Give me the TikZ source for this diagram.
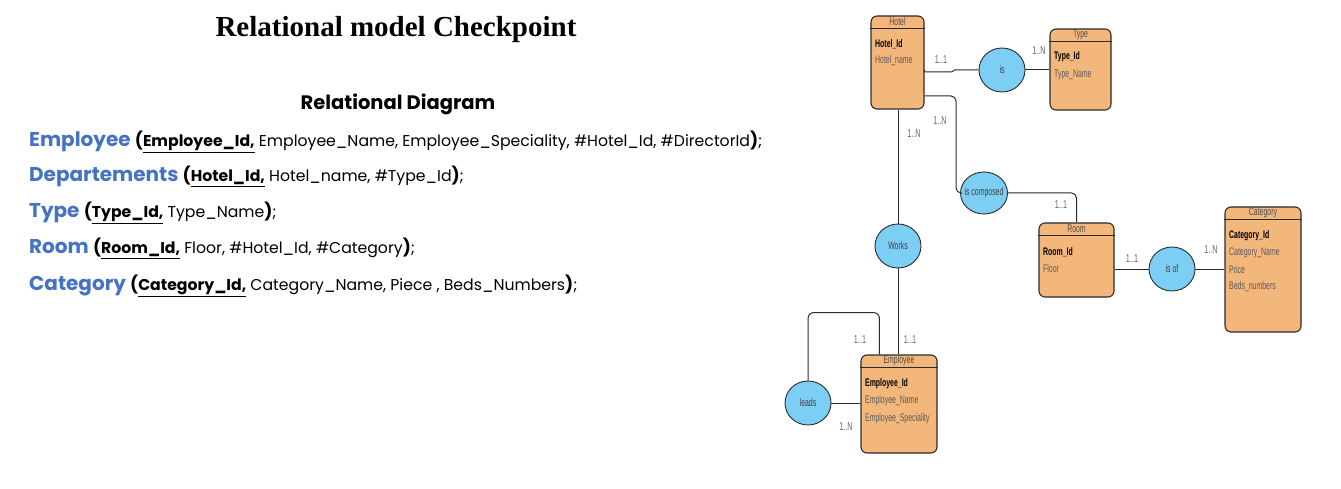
\documentclass[tikz,border=0pt]{standalone}
\usepackage{fontspec}
\usetikzlibrary{shapes.geometric}
\setmainfont{Liberation Serif}
\newfontfamily\lfont{Poppins}
\newfontfamily\nfont{Liberation Sans}[FakeStretch=0.63]
\definecolor{entfill}{HTML}{F4B77B}
\definecolor{relfill}{HTML}{7DCEF4}
\definecolor{keyblue}{HTML}{4472C4}
\definecolor{cardgray}{HTML}{666666}
\definecolor{edge}{HTML}{2B2B2B}
\tikzset{
  entity/.style={draw=edge, line width=1.1pt, fill=entfill, rounded corners=6pt, inner sep=0pt},
  rel/.style={ellipse, draw=edge, line width=0.9pt, fill=relfill, inner xsep=-7pt, inner ysep=0pt, minimum width=46pt, minimum height=44pt, font=\nfont\fontsize{11}{12}\selectfont, text=black!75},
  link/.style={draw=edge, line width=1pt},
  card/.style={font=\nfont\fontsize{11.5}{12}\selectfont, text=cardgray, inner sep=0pt},
  etitle/.style={font=\nfont\fontsize{11}{12}\selectfont, text=black!70, inner sep=0pt},
  akey/.style={font=\nfont\bfseries\fontsize{11}{12}\selectfont, text=black, anchor=west, inner sep=0pt},
  aval/.style={font=\nfont\fontsize{11}{12}\selectfont, text=black!65, anchor=west, inner sep=0pt},
  rline/.style={anchor=base west, inner sep=0pt},
}
\newcommand{\blueword}[1]{{\color{keyblue}\fontsize{20}{22}\selectfont\bfseries #1}}
\newcommand{\bpar}[1]{{\fontsize{17}{18}\selectfont\bfseries #1}}
\newcommand{\ukey}[1]{\textbf{\underline{#1}}}
\begin{document}
\begin{tikzpicture}[x=1pt,y=-1pt]
\useasboundingbox (0,0) rectangle (1341,489);
% ---------- left text ----------
\node[anchor=base, inner sep=0pt, font=\bfseries\fontsize{29}{31}\selectfont] (title) at (396,37) {Relational model Checkpoint};
\node[anchor=base, inner sep=0pt, font=\lfont\bfseries\fontsize{19.5}{21}\selectfont] (sub) at (398,110) {Relational Diagram};
\begin{scope}[every node/.style={rline, font=\lfont\fontsize{15.7}{17}\selectfont}]
\node (l1) at (29,147) {\blueword{Employee} \bpar{(}\ukey{Employee\_Id,} Employee\_Name, Employee\_Speciality, \#Hotel\_Id, \#DirectorId\bpar{)};};
\node (l2) at (29,182) {\blueword{Departements} \bpar{(}\ukey{Hotel\_Id,} Hotel\_name, \#Type\_Id\bpar{)};};
\node (l3) at (29,218) {\blueword{Type} \bpar{(}\ukey{Type\_Id,} Type\_Name\bpar{)};};
\node (l4) at (29,254) {\blueword{Room} \bpar{(}\ukey{Room\_Id,} Floor, \#Hotel\_Id, \#Category\bpar{)};};
\node (l5) at (29,290) {\blueword{Category} \bpar{(}\ukey{Category\_Id,} Category\_Name, Piece , Beds\_Numbers\bpar{)};};
\end{scope}
% ---------- entities ----------
\node[entity, minimum width=53pt, minimum height=93pt] (hotel) at (897.5,62.5) {};
\node[entity, minimum width=61pt, minimum height=81pt] (type) at (1080.5,69.5) {};
\node[entity, minimum width=75pt, minimum height=74pt] (room) at (1076.5,260) {};
\node[entity, minimum width=76pt, minimum height=125pt] (cat) at (1263,269.5) {};
\node[entity, minimum width=76pt, minimum height=98pt] (emp) at (899,404) {};
\foreach \e in {hotel,type,room,cat,emp}{
  \draw[edge, line width=1.3pt] ([yshift=-13pt]\e.north west) -- ([yshift=-13pt]\e.north east);
}
% titles
\node[etitle] (hotelT) at ([yshift=-6.5pt]hotel.north) {Hotel};
\node[etitle] (typeT) at ([yshift=-6.5pt]type.north) {Type};
\node[etitle] (roomT) at ([yshift=-6.5pt]room.north) {Room};
\node[etitle] (catT) at ([yshift=-6.5pt]cat.north) {Category};
\node[etitle] (empT) at ([yshift=-6.5pt]emp.north) {Employee};
% attributes
\node[akey] (h1) at (875,44) {Hotel\_Id};
\node[aval] (h2) at (875,61) {Hotel\_name};
\node[akey] (t1) at (1054,57) {Type\_Id};
\node[aval] (t2) at (1054,75) {Type\_Name};
\node[akey] (r1) at (1043,252) {Room\_Id};
\node[aval] (r2) at (1043,269) {Floor};
\node[akey] (c1) at (1229,236) {Category\_Id};
\node[aval] (c2) at (1229,253) {Category\_Name};
\node[aval] (c3) at (1229,270) {Price};
\node[aval] (c4) at (1229,287) {Beds\_numbers};
\node[akey] (e1) at (865,384) {Employee\_Id};
\node[aval] (e2) at (865,401) {Employee\_Name};
\node[aval] (e3) at (865,419) {Employee\_Speciality};
% ---------- relationships ----------
\node[rel] (is) at (1002,70) {is};
\node[rel, minimum width=47pt, minimum height=42pt] (isc) at (984,193) {is composed};
\node[rel] (works) at (898,246) {Works};
\node[rel] (isof) at (1172,269) {is of};
\node[rel] (leads) at (808,403) {leads};
% ---------- connectors ----------
\draw[link] (is.west) -- ++(-24,0) -- ++(-3,2) -| (hotel.east |- is.west);
\draw[link] (is.east) -- (is.east -| type.west);
\draw[link, rounded corners=5pt] ([yshift=-33.5pt]hotel.east) -| ([xshift=-4pt]isc.west) -- (isc.west);
\draw[link, rounded corners=5pt] (isc.east) -| (room.north);
\draw[link] (works.north) -- (works.north |- hotel.south);
\draw[link] (works.south) -- (works.south |- emp.north);
\draw[link] (isof.west) -- (isof.west -| room.east);
\draw[link] (isof.east) -- (isof.east -| cat.west);
\draw[link] (leads.east) -- (leads.east -| emp.west);
\draw[link, rounded corners=6pt] (leads.north) -- ++(0,-68) -| ([xshift=19pt]emp.north west);
% ---------- cardinalities ----------
\node[card] (k1) at (941,60) {1..1};
\node[card] (k2) at (1039,51) {1..N};
\node[card] (k3) at (940,121) {1..N};
\node[card] (k4) at (914,134) {1..N};
\node[card] (k5) at (1061,205) {1..1};
\node[card] (k6) at (1132,259) {1..1};
\node[card] (k7) at (1211,250) {1..N};
\node[card] (k8) at (860,340) {1..1};
\node[card] (k9) at (910,340) {1..1};
\node[card] (k10) at (846,427) {1..N};
\end{tikzpicture}
\end{document}
